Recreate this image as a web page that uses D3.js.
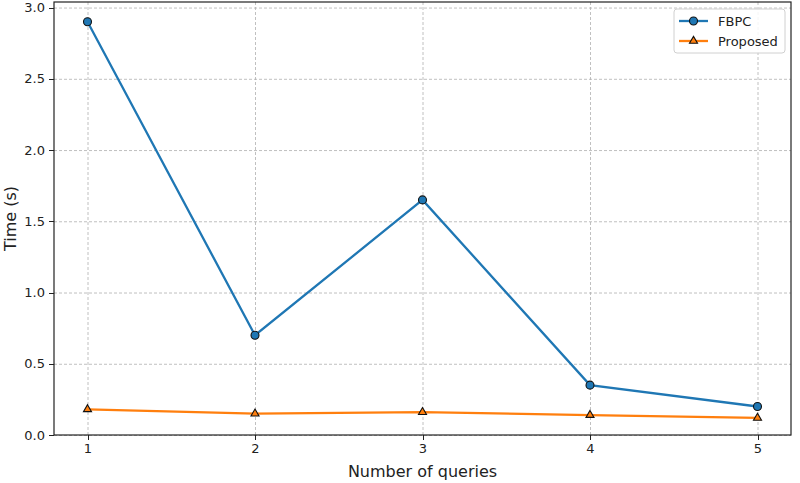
<!DOCTYPE html>
<meta charset="utf-8">
<style>
body { margin: 0; background: #fff; }
svg text { font-family: "DejaVu Sans", sans-serif; fill: #222; }
.grid line { stroke: #b0b0b0; stroke-dasharray: 3,2; stroke-width: 0.8; }
.grid path { display: none; }
.axis path, .axis line { stroke: #222; shape-rendering: crispEdges; }
</style>
<body>
<div id="chart"></div>
<script src="https://d3js.org/d3.v7.min.js"></script>
<script>
// values
var queries  = [1, 2, 3, 4, 5];
var fbpc     = [2.9, 0.7, 1.65, 0.35, 0.2];
var proposed = [0.18, 0.15, 0.16, 0.14, 0.12];
var yTicks   = [0, 0.5, 1.0, 1.5, 2.0, 2.5, 3.0];

var margin = {top: 2, right: 9, bottom: 48, left: 54},
    width  = 800 - margin.left - margin.right,
    height = 483 - margin.top - margin.bottom;

var svg = d3.select("#chart").append("svg")
    .attr("width", 800)
    .attr("height", 483)
  .append("g")
    .attr("transform", "translate(" + margin.left + "," + margin.top + ")");

var x = d3.scaleLinear().domain([0.8, 5.2]).range([0, width]);
var y = d3.scaleLinear().domain([0, 3.039]).range([height, 0]);

// grid
svg.append("g").attr("class", "grid")
    .attr("transform", "translate(0," + height + ")")
    .call(d3.axisBottom(x).tickValues(queries).tickSize(-height).tickFormat(""));
svg.append("g").attr("class", "grid")
    .call(d3.axisLeft(y).tickValues(yTicks).tickSize(-width).tickFormat(""));

// axes
svg.append("g").attr("class", "axis")
    .attr("transform", "translate(0," + height + ")")
    .call(d3.axisBottom(x).tickValues(queries).tickSize(5).tickPadding(4).tickFormat(d3.format("d")));
svg.append("g").attr("class", "axis")
    .call(d3.axisLeft(y).tickValues(yTicks).tickSize(5).tickPadding(4).tickFormat(d3.format(".1f")));
svg.selectAll(".axis text").style("font-size", "13px").style("font-family", "DejaVu Sans");
svg.selectAll(".axis .domain").remove();

// frame
svg.append("rect")
    .attr("width", width).attr("height", height)
    .attr("fill", "none").attr("stroke", "#222").attr("stroke-width", 1.2);

svg.append("text")
    .attr("x", width / 2).attr("y", height + 42)
    .attr("text-anchor", "middle").style("font-size", "16px")
    .text("Number of queries");
svg.append("text")
    .attr("transform", "rotate(-90)")
    .attr("x", -height / 2).attr("y", -38)
    .attr("text-anchor", "middle").style("font-size", "16px")
    .text("Time (s)");

var series = [
  {name: "FBPC", values: fbpc, color: "#1f77b4", marker: d3.symbolCircle, size: 50},
  {name: "Proposed", values: proposed, color: "#ff7f0e", marker: d3.symbolTriangle, size: 28}
];

var line = d3.line().x(function(d, i) { return x(queries[i]); }).y(function(d) { return y(d); });

series.forEach(function(s) {
  svg.append("path")
      .datum(s.values)
      .attr("fill", "none")
      .attr("stroke", s.color)
      .attr("stroke-width", 2.3)
      .attr("d", line);
  svg.selectAll(null)
      .data(s.values)
      .enter().append("path")
      .attr("transform", function(d, i) { return "translate(" + x(queries[i]) + "," + y(d) + ")"; })
      .attr("d", d3.symbol().type(s.marker).size(s.size))
      .attr("fill", s.color)
      .attr("stroke", "#111")
      .attr("stroke-width", 1.1);
});

// legend
var lg = svg.append("g").attr("transform", "translate(" + (width - 117) + ",7)");
lg.append("rect")
    .attr("width", 111).attr("height", 44).attr("rx", 3)
    .attr("fill", "#fff").attr("fill-opacity", 0.85)
    .attr("stroke", "#d0d0d0");
series.forEach(function(s, i) {
  var g = lg.append("g").attr("transform", "translate(0," + (12 + i * 20) + ")");
  g.append("line").attr("x1", 5).attr("x2", 34).attr("stroke", s.color).attr("stroke-width", 2.3);
  g.append("path")
      .attr("transform", "translate(19.5,0)")
      .attr("d", d3.symbol().type(s.marker).size(s.size))
      .attr("fill", s.color).attr("stroke", "#111").attr("stroke-width", 1.1);
  g.append("text").attr("x", 44).attr("dy", "0.35em")
      .style("font-size", "13px").text(s.name);
});
</script>
</body>
